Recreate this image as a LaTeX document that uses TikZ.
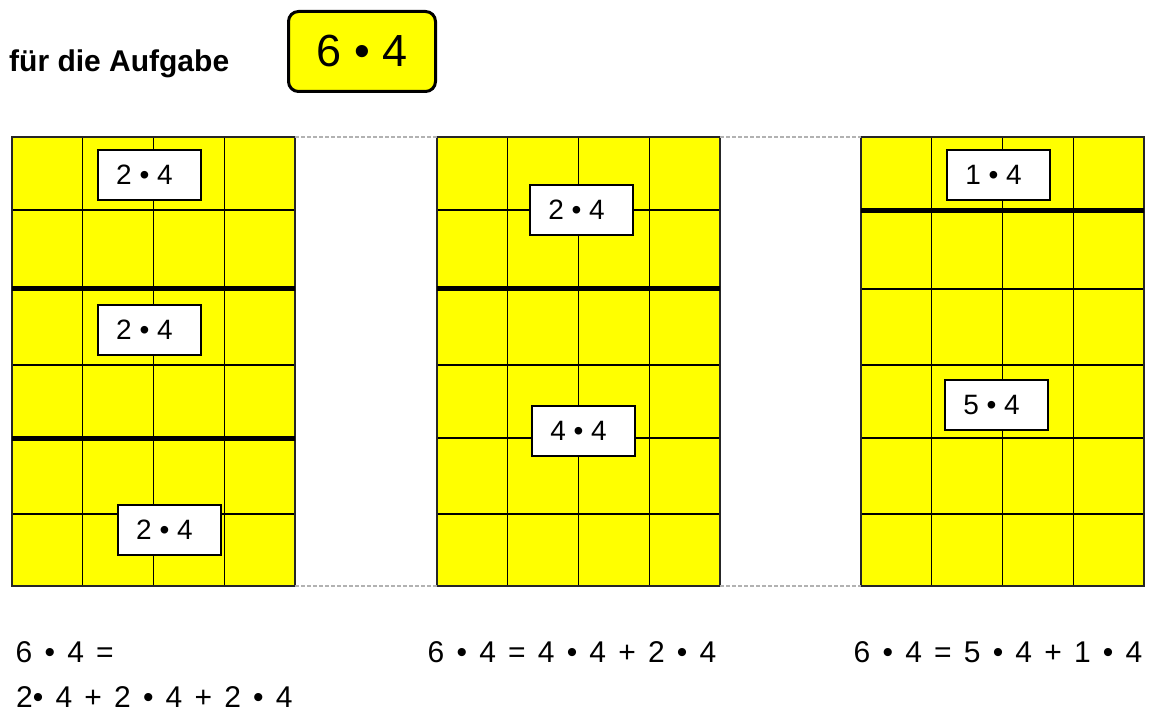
\documentclass[tikz,border=0pt]{standalone}
\usepackage{fontspec}
\setmainfont{Liberation Sans}
\definecolor{sheet}{RGB}{255,255,0}
\begin{document}
\begin{tikzpicture}[x=1pt,y=-1pt,
 gridbox/.style={draw=black!85, line width=1.4pt, fill=sheet, minimum width=283pt, minimum height=449pt, inner sep=0, outer sep=0, anchor=north west},
 gridline/.style={line width=1.2pt, draw=black},
 heavy/.style={line width=5pt, draw=black},
 labelbox/.style={draw=black, fill=white, line width=1.2pt, minimum width=103pt, minimum height=50pt, inner sep=0, font=\fontsize{28}{30}\selectfont},
 gap/.style={draw=black!30, line width=1.3pt, dash pattern=on 4pt off 2pt},
 expr/.style={anchor=base west, inner sep=0, font=\fontsize{30}{36}\selectfont}
]
\useasboundingbox (0,0) rectangle (1152,711);

% title
\node[anchor=base west, inner sep=0, font=\bfseries\fontsize{30}{36}\selectfont] (title) at (9,72) {für die Aufgabe};
\node[draw=black, line width=3pt, rounded corners=10pt, fill=sheet, minimum width=147pt, minimum height=80pt, inner sep=0, font=\fontsize{45}{50}\selectfont] (task) at (362,51.5) {6 • 4};

% grids
\foreach \gx/\nm in {12/g1, 437/g2, 861/g3}{
  \node[gridbox] (\nm) at (\gx,137) {};
  \foreach \c in {1,2,3}
    \draw[gridline] (\gx+\c*70.75,137) -- (\gx+\c*70.75,586);
  \foreach \r in {210,289,365,438,514}
    \draw[gridline] (\gx,\r) -- (\gx+283,\r);
  \draw[draw=black!85, line width=1.4pt] (\nm.north west) rectangle (\nm.south east);
}

% heavy split lines
\draw[heavy] (12,289) -- (295,289);
\draw[heavy] (12,438) -- (295,438);
\draw[heavy] (437,289) -- (720,289);
\draw[heavy] (861,211) -- (1144,211);

% dashed gaps
\draw[gap] (g1.north east) -- (g2.north west);
\draw[gap] (g2.north east) -- (g3.north west);
\draw[gap] (g1.south east) -- (g2.south west);
\draw[gap] (g2.south east) -- (g3.south west);

% labels
\node[labelbox] (l1) at (149.5,175) {\hspace*{-10pt}2 • 4};
\node[labelbox] (l2) at (149.5,330) {\hspace*{-10pt}2 • 4};
\node[labelbox] (l3) at (169.5,530) {\hspace*{-10pt}2 • 4};
\node[labelbox] (m1) at (581.5,210) {\hspace*{-10pt}2 • 4};
\node[labelbox] (m2) at (583.5,431) {\hspace*{-10pt}4 • 4};
\node[labelbox] (r1) at (998.5,175) {\hspace*{-10pt}1 • 4};
\node[labelbox] (r2) at (996.5,405) {\hspace*{-10pt}5 • 4};

% equations
\node[expr] (e1a) at (15.5,662) {\spaceskip=12.2pt\relax 6 • 4 =};
\node[expr] (e1b) at (16,707) {\spaceskip=12.2pt\relax 2• 4 + 2 • 4 + 2 • 4};
\node[expr] (e2) at (427.5,662) {\spaceskip=12.2pt\relax 6 • 4 = 4 • 4 + 2 • 4};
\node[expr] (e3) at (853.5,662) {\spaceskip=12.2pt\relax 6 • 4 = 5 • 4 + 1 • 4};
\end{tikzpicture}
\end{document}
